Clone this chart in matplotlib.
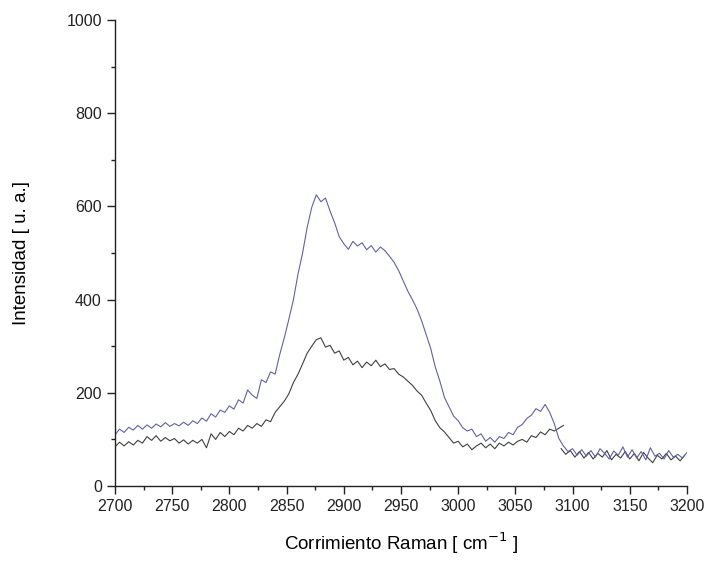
import matplotlib
matplotlib.use("Agg")
import matplotlib.pyplot as plt
import numpy as np

plt.rcParams['font.family'] = ['Liberation Sans', 'DejaVu Sans']

# Blue spectrum (2700..3200, step 4)
blue_x = list(range(2700, 3200, 4)) + [3200]
blue_y = [110, 122, 115, 126, 120, 130, 122, 131, 124, 133, 127, 136, 128, 134, 129, 137,
          130, 140, 134, 146, 139, 155, 148, 163, 158, 172, 165, 185, 178, 206, 195, 188,
          228, 222, 245, 240, 282, 318, 358, 400, 455, 500, 555, 598, 625, 610, 618, 590,
          565, 535, 520, 508, 525, 515, 522, 507, 516, 502, 513, 505, 493, 480, 462, 440,
          418, 400, 380, 355, 325, 295, 255, 225, 190, 170, 150, 140, 125, 118, 122, 106,
          112, 96, 104, 94, 106, 102, 115, 110, 126, 132, 145, 152, 166, 160, 175, 158,
          134, 102, 86, 74, 80, 66, 78, 64, 76, 62, 80, 70, 58, 75, 66, 84,
          62, 78, 60, 74, 56, 82, 64, 70, 58, 76, 62, 68, 60, 72]

# Dark spectrum (2700..3092, step 4)
dark_x = list(range(2700, 3093, 4))
dark_y = [84, 94, 86, 95, 88, 98, 92, 106, 98, 108, 96, 104, 97, 102, 92, 99,
          90, 98, 92, 100, 82, 112, 100, 115, 106, 117, 110, 124, 118, 130, 124, 134,
          128, 142, 138, 158, 170, 182, 198, 222, 240, 262, 285, 300, 314, 318, 298, 302,
          285, 290, 270, 276, 260, 268, 254, 266, 258, 270, 256, 262, 250, 252, 240, 234,
          225, 216, 204, 195, 178, 162, 140, 125, 116, 104, 92, 96, 84, 90, 78, 86,
          92, 82, 90, 80, 92, 86, 94, 88, 96, 100, 94, 108, 104, 116, 110, 122,
          118, 124, 130]

# Dark spectrum tail (3090..3198)
dark_tail_x = list(range(3090, 3199, 4))
dark_tail_y = [80, 68, 76, 62, 74, 60, 72, 58, 70, 62, 76, 56, 68, 60, 74,
               58, 70, 54, 72, 60, 50, 66, 58, 70, 56, 64, 54, 66]

fig = plt.figure(figsize=(7.08, 5.61), dpi=100)
ax = fig.add_axes([0.1624, 0.1337, 0.8079, 0.8306])

ax.plot(dark_x, dark_y, color='#404040', lw=0.8)
ax.plot(dark_tail_x, dark_tail_y, color='#404040', lw=0.8)
ax.plot(blue_x, blue_y, color='#6060ac', lw=0.8)

ax.set_xlim(2700, 3200)
ax.set_ylim(0, 1000)
ax.set_xticks(np.arange(2700, 3201, 50))
ax.set_xticks(np.arange(2725, 3200, 50), minor=True)
ax.set_yticks(np.arange(0, 1001, 200))
ax.set_yticks(np.arange(100, 1000, 200), minor=True)

for s in ['top', 'right']:
    ax.spines[s].set_visible(False)
for s in ['left', 'bottom']:
    ax.spines[s].set_linewidth(1.0)
    ax.spines[s].set_color('#222222')

ax.tick_params(axis='both', which='major', direction='out', length=6, width=1.0,
               labelsize=11.5, colors='#222222')
ax.tick_params(axis='both', which='minor', direction='out', length=3, width=1.0,
               colors='#222222')

ax.set_xlabel('Corrimiento Raman [ cm$^{-1}$ ]', fontsize=13.5, labelpad=12)
ax.set_ylabel('Intensidad [ u. a.]', fontsize=13.5, labelpad=26)

fig.savefig('out.png', dpi=100)
